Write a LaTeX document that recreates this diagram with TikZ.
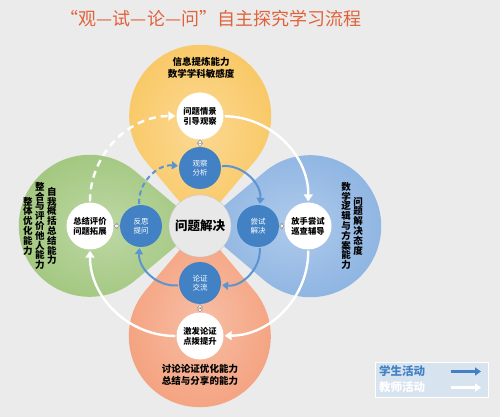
\documentclass[tikz,border=0pt]{standalone}
\usepackage{fontspec}
\setmainfont{Noto Sans CJK SC}
\usepackage{tikz}
\usetikzlibrary{arrows.meta}
\definecolor{bg}{HTML}{EBEBEB}
\definecolor{yel}{HTML}{F9C865}
\definecolor{blu}{HTML}{8DB4E2}
\definecolor{gre}{HTML}{A2C77F}
\definecolor{ora}{HTML}{F4A27F}
\definecolor{studblue}{HTML}{4181C4}
\definecolor{flowblue}{HTML}{5B94D0}
\definecolor{titlered}{HTML}{E0623B}
\definecolor{coregray}{HTML}{E8E8E8}
\definecolor{legfill}{HTML}{D8E3F0}
\tikzstyle{core}=[circle,fill=coregray,draw=gray!45,minimum size=62pt,inner sep=0pt,font=\fontsize{12.5}{14}\selectfont\bfseries]
\tikzstyle{tchr}=[circle,fill=white,minimum size=47pt,inner sep=0pt,align=center,font=\fontsize{8.3}{10}\selectfont\bfseries]
\tikzstyle{studcirc}=[circle,fill=studblue,minimum size=42pt,inner sep=0pt,align=center,text=white,font=\fontsize{7.5}{9.5}\selectfont]
\tikzstyle{tflow}=[white,line width=2.4pt,-{Triangle[length=7pt,width=9pt]},shorten >=1pt,shorten <=1pt]
\tikzstyle{sflow}=[flowblue,line width=2pt,-{Triangle[length=6pt,width=8pt]},shorten >=1pt,shorten <=1pt]
\tikzstyle{twoway}=[gray,{Triangle[open,fill=white,length=3.5pt,width=6pt]}-{Triangle[open,fill=white,length=3.5pt,width=6pt]}]
\tikzstyle{ptext}=[align=center,inner sep=0pt,font=\fontsize{9.5}{12}\selectfont\bfseries]
\tikzstyle{vtext}=[align=center,inner sep=0pt,font=\fontsize{9.5}{9.8}\selectfont\bfseries]
\tikzstyle{legarrow}=[line width=3pt,-{Triangle[length=6pt,width=8pt]}]
\begin{document}
\begin{tikzpicture}[x=1pt,y=1pt]
        \fill[bg] (-200,-191) rectangle (300,226);
        \useasboundingbox (-200,-191) rectangle (300,226);
        \foreach \a/\c in {90/yel,0/blu,-90/ora,180/gre}
            \shade[inner color=\c!70!white,outer color=\c] (0,0) -- (\a+40:84.3) arc[start angle=\a+130,end angle=\a-130,radius=71] -- cycle;
        \node[font=\fontsize{18}{20}\selectfont,text=titlered] (title) at (11,207.5) {“观—试—论—问”自主探究学习流程};
        \node[core] (core) at (0,0) {问题解决};
        \node[tchr] (sit) at (90:110) {问题情景\\引导观察};
        \node[tchr] (guide) at (0:108) {放手尝试\\巡查辅导};
        \node[tchr] (spark) at (-90:110) {激发论证\\点拨提升};
        \node[tchr] (review) at (180:110) {总结评价\\问题拓展};
        \node[studcirc] (obs) at (90:58) {观察\\分析};
        \node[studcirc] (try) at (0:58) {尝试\\解决};
        \node[studcirc] (argue) at (-90:57) {论证\\交流};
        \node[studcirc] (ask) at (180:59) {反思\\提问};
        \draw[tflow] (sit) to[bend left=45] (guide);
        \draw[tflow] (guide) to[bend left=45] (spark);
        \draw[tflow] (spark) to[bend left=45] (review);
        \draw[tflow,dash pattern=on 7pt off 5pt] (review) to[bend left=45] (sit);
        \draw[sflow] (obs) to[bend left=50] (try);
        \draw[sflow] (try) to[bend left=50] (argue);
        \draw[sflow] (argue) to[bend left=50] (ask);
        \draw[sflow,dash pattern=on 5pt off 3.5pt] (ask) to[bend left=50] (obs);
        \draw[twoway] (obs) -- (sit);
        \draw[twoway] (try) -- (guide);
        \draw[twoway] (argue) -- (spark);
        \draw[twoway] (ask) -- (review);
        \node[ptext] (yelcap) at (1,158) {信息提炼能力\\数学学科敏感度};
        \node[ptext] (oracap) at (0,-149) {讨论论证优化能力\\总结与分享的能力};
        \node[vtext] (blucap1) at (146,0) {数\\学\\逻\\辑\\与\\方\\案\\能\\力};
        \node[vtext] (blucap2) at (158,0) {问\\题\\解\\决\\态\\度};
        \node[vtext] (grecap1) at (-148,0) {自\\我\\概\\括\\总\\结\\能\\力};
        \node[vtext] (grecap2) at (-160,0) {整\\合\\与\\评\\价\\他\\人\\能\\力};
        \node[vtext] (grecap3) at (-172,0) {整\\体\\优\\化\\能\\力};
        \node[draw=white,fill=legfill,minimum width=113pt,minimum height=35pt] (legend) at (231.5,-153.5) {};
        \node[font=\fontsize{11.5}{12}\selectfont\bfseries,text=studblue] (stulab) at (202,-145.5) {学生活动};
        \node[font=\fontsize{11.5}{12}\selectfont\bfseries,text=white] (tealab) at (202,-161.5) {教师活动};
        \coordinate (s1) at (251,-145.5);
        \coordinate (s2) at (281,-145.5);
        \coordinate (t1) at (251,-161.5);
        \coordinate (t2) at (281,-161.5);
        \draw[legarrow,studblue] (s1) -- (s2);
        \draw[legarrow,white] (t1) -- (t2);
\end{tikzpicture}
\end{document}
